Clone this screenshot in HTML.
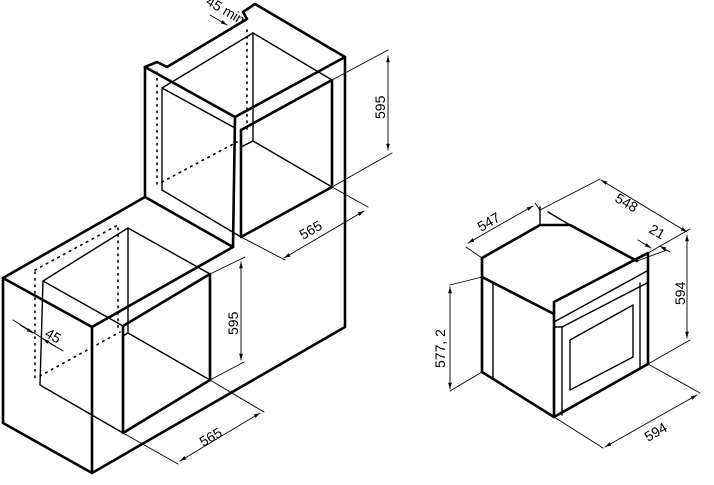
<!DOCTYPE html>
<html><head><meta charset="utf-8"><style>
html,body{margin:0;padding:0;background:#fff;}
svg{display:block;}
text{font-family:"Liberation Sans",sans-serif;font-size:14px;fill:#000;}
</style></head><body>
<svg width="714" height="485" viewBox="0 0 714 485" xmlns="http://www.w3.org/2000/svg">
<defs>
<marker id="a" viewBox="0 0 10 10" refX="10" refY="5" markerWidth="7" markerHeight="7" orient="auto-start-reverse"><path d="M0,2 L10,5 L0,8 z" fill="#000"/></marker>
</defs>
<g fill="none" stroke="#000" stroke-linecap="round" stroke-linejoin="round">
<g stroke-width="2.6">
<path d="M145,67 L157,62 L167,67 L247,19 L243,12 L255,4 L345,57 L345,327 L92,473"/>
<path d="M145,67 L235,117 L345,57"/>
<path d="M145,67 L145,197 L233,247"/>
<path d="M235,117 L233,247"/>
<path d="M241,130 L332,80 L332,187 L241,237 L241,130"/>
<path d="M3,278 L145,197"/>
<path d="M3,278 L92,327 L233,247"/>
<path d="M3,278 L3,423 L92,473 L92,327"/>
<path d="M123,326 L210,274 L210,380 L123,433 L123,326"/>
<path d="M482,258 L540,225 L570,225 L637,261"/>
<path d="M482,258 L482,372 L554,417"/>
<path d="M482,277 L554,314"/>
<path d="M554,302 L648,253 L648,364 L554,417 Z"/>
</g>
<g stroke-width="1.4">
<path d="M253,33 L162,88 L162,190 L241,237"/>
<path d="M253,33 L332,80"/>
<path d="M253,33 L253,141 L332,187"/>
<path d="M253,141 L241,147"/>
<path d="M162,88 L235,128"/>
<path d="M128,228 L43,281 L40,385 L123,433"/>
<path d="M128,228 L210,274"/>
<path d="M128,228 L128,333 L210,380"/>
<path d="M43,281 L123,326"/>
<path d="M128,333 L123,336"/>
<path d="M493,283 L493,377"/>
<path d="M554,322 L647,271"/>
<path d="M554,327 L562,327 L647,283"/>
<path d="M562,327 L562,415"/>
<path d="M640,283 L640,367"/>
<path d="M570,340 L633,305 L633,357 L570,390 Z"/>
<path d="M540,225 L540,207"/>
<path d="M570,225 L548,212"/>
</g>
<g stroke-width="1.6" stroke-dasharray="1.5 5">
<path d="M247,30 L247,132"/>
<path d="M157,72 L157,187"/>
<path d="M162,182 L237,142"/>
<path d="M35,270 L118,225 L118,330"/>
<path d="M35,272 L35,380"/>
<path d="M40,376 L120,332"/>
</g>
<g stroke-width="0.9">
<path d="M332,80 L388,50"/><path d="M332,187 L392,153"/>
<path d="M388,56 L388,150" marker-start="url(#a)" marker-end="url(#a)"/>
<path d="M332,187 L368,207"/><path d="M241,237 L285,260"/>
<path d="M284,258 L364,211" marker-start="url(#a)" marker-end="url(#a)"/>
<path d="M210,274 L245,257"/><path d="M210,380 L244,362"/>
<path d="M241,262 L241,360" marker-start="url(#a)" marker-end="url(#a)"/>
<path d="M210,380 L264,412"/><path d="M123,433 L178,464"/>
<path d="M180,461 L260,413" marker-start="url(#a)" marker-end="url(#a)"/>
<path d="M13,320 L63,351"/>
<path d="M20,325 L33,333" marker-end="url(#a)"/>
<path d="M56,347 L43,339" marker-end="url(#a)"/>
<path d="M210,15 L227,25" marker-end="url(#a)"/>
<path d="M482,258 L466,247"/><path d="M540,210 L535,203"/>
<path d="M468,243 L533,206" marker-start="url(#a)" marker-end="url(#a)"/>
<path d="M540,210 L600,179"/><path d="M648,253 L690,229"/>
<path d="M601,180 L687,232" marker-start="url(#a)" marker-end="url(#a)"/>
<path d="M637,261 L667,250"/>
<path d="M638,240 L651,248" marker-end="url(#a)"/>
<path d="M670,252 L660,246" marker-end="url(#a)"/>
<path d="M648,364 L690,340"/>
<path d="M687,235 L687,338" marker-start="url(#a)" marker-end="url(#a)"/>
<path d="M482,277 L450,285"/><path d="M482,372 L450,391"/>
<path d="M450,287 L450,389" marker-start="url(#a)" marker-end="url(#a)"/>
<path d="M554,417 L603,448"/><path d="M648,364 L700,393"/>
<path d="M605,447 L697,395" marker-start="url(#a)" marker-end="url(#a)"/>
</g>
</g>
<g>
<text transform="translate(385,119) rotate(-90)">595</text>
<text transform="translate(303,240) rotate(-30)">565</text>
<text transform="translate(238,335) rotate(-90)">595</text>
<text transform="translate(203,447) rotate(-30)">565</text>
<text transform="translate(44,336) rotate(30)" font-size="12">45</text>
<text transform="translate(205,4) rotate(30)" font-size="11">45 min</text>
<text transform="translate(481,232) rotate(-30)">547</text>
<text transform="translate(614,201) rotate(30)">548</text>
<text transform="translate(648,232) rotate(30)" font-size="12">21</text>
<text transform="translate(685,305) rotate(-90)">594</text>
<text transform="translate(445,368) rotate(-90)">577, 2</text>
<text transform="translate(648,442) rotate(-30)">594</text>
</g>
</svg>
</body></html>
